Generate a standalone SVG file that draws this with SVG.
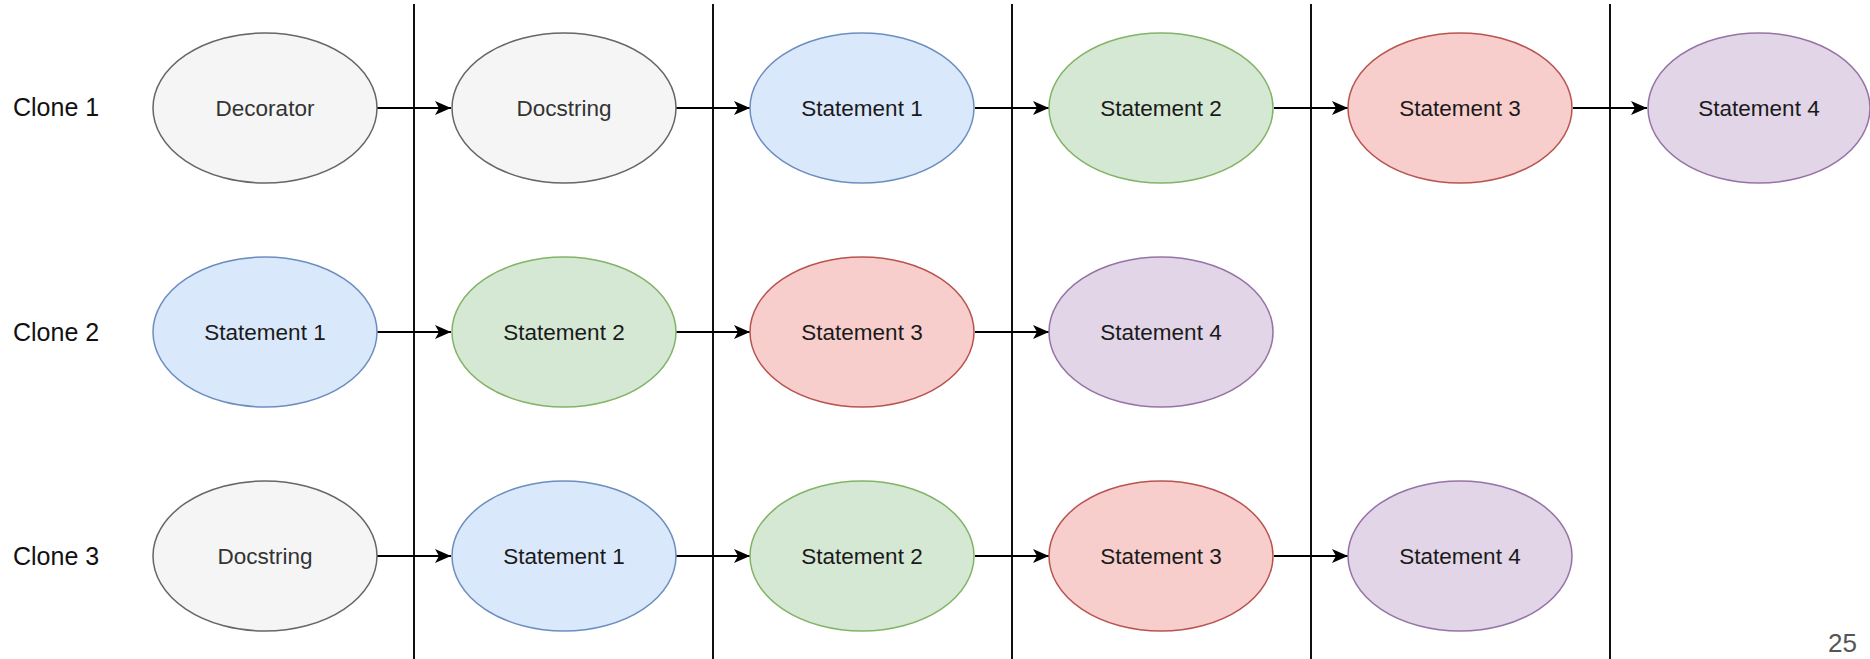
<svg xmlns="http://www.w3.org/2000/svg" width="1870" height="659" viewBox="0 0 1870 659">
<defs>
<style>
text{font-family:"Liberation Sans",Arial,sans-serif}
.lbl{font-size:25px;fill:#111}
.nt{font-size:22.5px;text-anchor:middle;dominant-baseline:central;fill:#1a1a1a}
.ntg{fill:#333}
.grey{fill:#f5f5f5;stroke:#666666;stroke-width:1.5}
.blue{fill:#dae8fc;stroke:#6c8ebf;stroke-width:1.5}
.green{fill:#d5e8d4;stroke:#82b366;stroke-width:1.5}
.red{fill:#f8cecc;stroke:#b85450;stroke-width:1.5}
.purple{fill:#e1d5e7;stroke:#9673a6;stroke-width:1.5}
.sep{stroke:#111;stroke-width:2}
.edge{stroke:#000;stroke-width:2;fill:none;marker-end:url(#arr)}
</style>
<marker id="arr" markerWidth="16" markerHeight="14" viewBox="0 0 16 14" refX="16" refY="7" markerUnits="userSpaceOnUse" orient="auto" style="overflow:visible">
<path d="M0,0 L16,7 L0,14 L4,7 Z" fill="#000"/>
</marker>
</defs>
<rect width="1870" height="659" fill="#fff"/>
<g id="separators">
<line class="sep" x1="414" y1="4" x2="414" y2="659"/>
<line class="sep" x1="713" y1="4" x2="713" y2="659"/>
<line class="sep" x1="1012" y1="4" x2="1012" y2="659"/>
<line class="sep" x1="1311" y1="4" x2="1311" y2="659"/>
<line class="sep" x1="1610" y1="4" x2="1610" y2="659"/>
</g>
<g id="row-labels">
<text class="lbl" x="13" y="116">Clone 1</text>
<text class="lbl" x="13" y="341">Clone 2</text>
<text class="lbl" x="13" y="565">Clone 3</text>
</g>
<g id="connectors">
<line class="edge" x1="377" y1="108" x2="451" y2="108"/>
<line class="edge" x1="676" y1="108" x2="750" y2="108"/>
<line class="edge" x1="975" y1="108" x2="1049" y2="108"/>
<line class="edge" x1="1274" y1="108" x2="1348" y2="108"/>
<line class="edge" x1="1573" y1="108" x2="1647" y2="108"/>
<line class="edge" x1="377" y1="332" x2="451" y2="332"/>
<line class="edge" x1="676" y1="332" x2="750" y2="332"/>
<line class="edge" x1="975" y1="332" x2="1049" y2="332"/>
<line class="edge" x1="377" y1="556" x2="451" y2="556"/>
<line class="edge" x1="676" y1="556" x2="750" y2="556"/>
<line class="edge" x1="975" y1="556" x2="1049" y2="556"/>
<line class="edge" x1="1274" y1="556" x2="1348" y2="556"/>
</g>
<g id="c1-decorator"><ellipse class="grey" cx="265" cy="108" rx="112" ry="75"/><text class="nt ntg" x="265" y="108">Decorator</text></g>
<g id="c1-docstring"><ellipse class="grey" cx="564" cy="108" rx="112" ry="75"/><text class="nt ntg" x="564" y="108">Docstring</text></g>
<g id="c1-s1"><ellipse class="blue" cx="862" cy="108" rx="112" ry="75"/><text class="nt" x="862" y="108">Statement 1</text></g>
<g id="c1-s2"><ellipse class="green" cx="1161" cy="108" rx="112" ry="75"/><text class="nt" x="1161" y="108">Statement 2</text></g>
<g id="c1-s3"><ellipse class="red" cx="1460" cy="108" rx="112" ry="75"/><text class="nt" x="1460" y="108">Statement 3</text></g>
<g id="c1-s4"><ellipse class="purple" cx="1759" cy="108" rx="111" ry="75"/><text class="nt" x="1759" y="108">Statement 4</text></g>
<g id="c2-s1"><ellipse class="blue" cx="265" cy="332" rx="112" ry="75"/><text class="nt" x="265" y="332">Statement 1</text></g>
<g id="c2-s2"><ellipse class="green" cx="564" cy="332" rx="112" ry="75"/><text class="nt" x="564" y="332">Statement 2</text></g>
<g id="c2-s3"><ellipse class="red" cx="862" cy="332" rx="112" ry="75"/><text class="nt" x="862" y="332">Statement 3</text></g>
<g id="c2-s4"><ellipse class="purple" cx="1161" cy="332" rx="112" ry="75"/><text class="nt" x="1161" y="332">Statement 4</text></g>
<g id="c3-docstring"><ellipse class="grey" cx="265" cy="556" rx="112" ry="75"/><text class="nt ntg" x="265" y="556">Docstring</text></g>
<g id="c3-s1"><ellipse class="blue" cx="564" cy="556" rx="112" ry="75"/><text class="nt" x="564" y="556">Statement 1</text></g>
<g id="c3-s2"><ellipse class="green" cx="862" cy="556" rx="112" ry="75"/><text class="nt" x="862" y="556">Statement 2</text></g>
<g id="c3-s3"><ellipse class="red" cx="1161" cy="556" rx="112" ry="75"/><text class="nt" x="1161" y="556">Statement 3</text></g>
<g id="c3-s4"><ellipse class="purple" cx="1460" cy="556" rx="112" ry="75"/><text class="nt" x="1460" y="556">Statement 4</text></g>
<text x="1857" y="652" font-size="26" text-anchor="end" fill="#555">25</text>
</svg>
